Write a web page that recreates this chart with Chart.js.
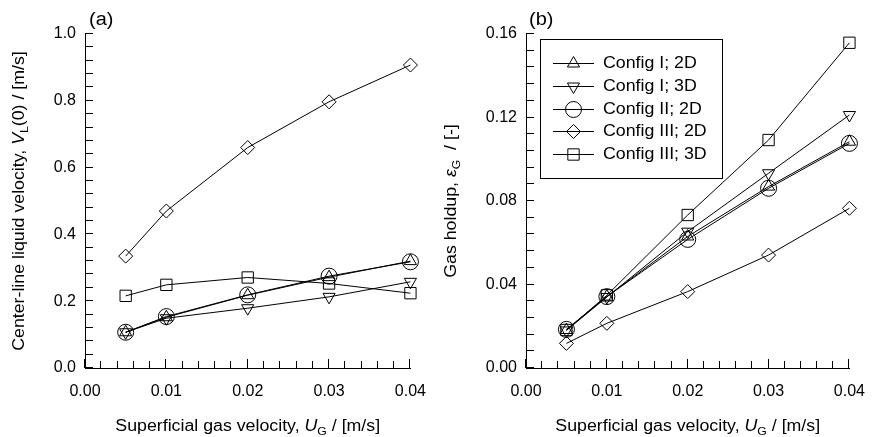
<!DOCTYPE html>
<html>
<head>
<meta charset="utf-8">
<script src="https://cdn.jsdelivr.net/npm/chart.js@4/dist/chart.umd.min.js"></script>
<style>
  body { margin: 0; background: #fff; }
  #wrap { position: relative; width: 879px; height: 437px; }
  .panel { position: absolute; top: 0; height: 437px; }
</style>
</head>
<body>
<div id="wrap">
  <div class="panel" style="left:0;width:440px"><canvas id="chartA"></canvas></div>
  <div class="panel" style="left:440px;width:439px"><canvas id="chartB"></canvas></div>
</div>
<script>
// superficial gas velocity U_G [m/s]
const ug = [0.005, 0.01, 0.02, 0.03, 0.04];
const seriesNames = ['Config I; 2D', 'Config I; 3D', 'Config II; 2D', 'Config III; 2D', 'Config III; 3D'];

// (a) center-line liquid velocity V_L(0) [m/s]
const velI2D   = [0.107, 0.152, 0.218, 0.272, 0.320];
const velI3D   = [0.107, 0.149, 0.179, 0.213, 0.258];
const velII2D  = [0.107, 0.154, 0.219, 0.275, 0.318];
const velIII2D = [0.335, 0.470, 0.660, 0.797, 0.907];
const velIII3D = [0.216, 0.249, 0.271, 0.253, 0.224];

// (b) gas holdup eps_G [-]
const holdI2D   = [0.0182, 0.0342, 0.0630, 0.0869, 0.1084];
const holdI3D   = [0.0180, 0.0340, 0.0653, 0.0933, 0.1212];
const holdII2D  = [0.0185, 0.0342, 0.0616, 0.0861, 0.1076];
const holdIII2D = [0.0118, 0.0214, 0.0366, 0.0541, 0.0765];
const holdIII3D = [0.0182, 0.0348, 0.0733, 0.1092, 0.1558];

const xTicks = [0, 0.01, 0.02, 0.03, 0.04];
const yTicksA = [0, 0.2, 0.4, 0.6, 0.8, 1.0];
const yTicksB = [0, 0.04, 0.08, 0.12, 0.16];

const FONT = '"Liberation Sans", Arial, Helvetica, sans-serif';
const WIDEN = 1.11;   // labels and legend text are set slightly wide

// marker look for each configuration
const markers = [
  { pointStyle: 'triangle', rotation: 0,   radius: 7 },
  { pointStyle: 'triangle', rotation: 180, radius: 7 },
  { pointStyle: 'circle',   rotation: 0,   radius: 8 },
  { pointStyle: 'rectRot',  rotation: 0,   radius: 7 },
  { pointStyle: 'rect',     rotation: 0,   radius: 8 }
];

function makeDatasets(series) {
  return series.map((vals, i) => ({
    label: seriesNames[i],
    data: ug.map((u, k) => ({ x: u, y: vals[k] })),
    borderColor: '#000',
    borderWidth: 1,
    backgroundColor: 'rgba(0,0,0,0)',
    pointStyle: markers[i].pointStyle,
    rotation: markers[i].rotation,
    pointRadius: markers[i].radius,
    pointHoverRadius: markers[i].radius,
    pointBorderColor: '#000',
    pointBackgroundColor: 'rgba(0,0,0,0)',
    pointBorderWidth: 1,
    tension: 0,
    clip: false
  }));
}

function wideText(ctx, text, x, y) {
  ctx.save();
  ctx.translate(x, y);
  ctx.scale(WIDEN, 1);
  ctx.fillText(text, 0, 0);
  ctx.restore();
}

// text made of pieces: normal, italic, subscript
function drawRich(ctx, segs, cx, cy) {
  const fonts = segs.map(s => (s.italic ? 'italic ' : '') + (s.sub ? '11px ' : '16px ') + FONT);
  const widths = segs.map((s, i) => { ctx.font = fonts[i]; return ctx.measureText(s.text).width * WIDEN; });
  let x = cx - widths.reduce((a, b) => a + b, 0) / 2;
  ctx.textAlign = 'left';
  ctx.textBaseline = 'alphabetic';
  segs.forEach((s, i) => {
    ctx.font = fonts[i];
    wideText(ctx, s.text, x, cy + 5.7 + (s.sub ? 4 : 0));
    x += widths[i];
  });
}

const axisTitles = {
  id: 'axisTitles',
  afterDraw(chart, args, opts) {
    const { ctx, chartArea: a } = chart;
    ctx.save();
    ctx.fillStyle = '#000';
    drawRich(ctx, opts.x, (a.left + a.right) / 2, opts.xTitleY);
    ctx.translate(opts.yTitleX, (a.top + a.bottom) / 2);
    ctx.rotate(-Math.PI / 2);
    drawRich(ctx, opts.y, 0, 0);
    ctx.restore();
    ctx.save();
    ctx.fillStyle = '#000';
    ctx.font = '18px ' + FONT;
    ctx.textAlign = 'left';
    ctx.textBaseline = 'middle';
    wideText(ctx, opts.panel, opts.panelX, 20);
    ctx.restore();
  }
};

// boxed legend with line + marker samples
const boxLegend = {
  id: 'boxLegend',
  afterDraw(chart, args, opts) {
    if (!opts.show) return;
    const ctx = chart.ctx;
    ctx.save();
    ctx.strokeStyle = '#000';
    ctx.lineWidth = 1;
    ctx.fillStyle = '#fff';
    ctx.fillRect(opts.left, opts.top, opts.width, opts.height);
    ctx.strokeRect(opts.left + 0.5, opts.top + 0.5, opts.width, opts.height);
    chart.data.datasets.forEach((ds, i) => {
      const yy = Math.round(opts.firstY + i * opts.rowH);
      ctx.beginPath();
      ctx.moveTo(opts.lineX0, yy + 0.5);
      ctx.lineTo(opts.lineX1, yy + 0.5);
      ctx.stroke();
      ctx.fillStyle = 'rgba(0,0,0,0)';
      Chart.helpers.drawPoint(ctx, {
        pointStyle: ds.pointStyle, rotation: ds.rotation, radius: ds.pointRadius, borderWidth: 1
      }, (opts.lineX0 + opts.lineX1) / 2, yy + 0.5);
      ctx.fillStyle = '#000';
      ctx.font = '16px ' + FONT;
      ctx.textAlign = 'left';
      ctx.textBaseline = 'middle';
      wideText(ctx, ds.label, opts.textX, yy + 1);
    });
    ctx.restore();
  }
};

// tick marks pointing into the plot area, drawn last
function makeInnerTicks(xStep, yStep, majorEvery) {
  return {
    id: 'innerTicks',
    afterDraw(chart) {
      const ctx = chart.ctx;
      const a = chart.chartArea;
      const sx = chart.scales.x, sy = chart.scales.y;
      const bottom = Math.round(a.bottom), left = Math.round(a.left);
      ctx.save();
      ctx.fillStyle = '#000';
      const nx = Math.round((sx.max - sx.min) / xStep);
      for (let i = 0; i <= nx; i++) {
        const px = Math.round(sx.getPixelForValue(sx.min + i * xStep));
        const len = i % majorEvery === 0 ? 9 : 7;
        ctx.fillRect(px - 1, bottom - len, 1, len);
      }
      const ny = Math.round((sy.max - sy.min) / yStep);
      for (let i = 0; i <= ny; i++) {
        const py = Math.round(sy.getPixelForValue(sy.min + i * yStep));
        ctx.fillRect(left, py - 1, 8, 1);
      }
      ctx.restore();
    }
  };
}

function makeChart(id, series, yTicks, yMax, digits, cfg) {
  return new Chart(document.getElementById(id), {
    type: 'line',
    data: { datasets: makeDatasets(series) },
    plugins: [axisTitles, boxLegend, makeInnerTicks(0.002, cfg.yMinor, 5)],
    options: {
      responsive: true,
      maintainAspectRatio: false,
      animation: false,
      layout: { padding: { left: 0, right: cfg.padRight, top: 34, bottom: 0 } },
      scales: {
        x: {
          type: 'linear',
          min: 0, max: 0.04,
          afterBuildTicks: s => { s.ticks = xTicks.map(v => ({ value: v })); },
          afterFit: s => { s.height = 69; },
          ticks: { callback: v => v.toFixed(2), color: '#000', font: { family: FONT, size: 16 }, padding: 14, maxRotation: 0, autoSkip: false },
          grid: { display: false, drawTicks: false },
          border: { display: true, color: '#000', width: 1 }
        },
        y: {
          type: 'linear',
          min: 0, max: yMax,
          afterBuildTicks: s => { s.ticks = yTicks.map(v => ({ value: v })); },
          afterFit: s => { s.width = cfg.yWidth; },
          ticks: { callback: v => v.toFixed(digits), color: '#000', font: { family: FONT, size: 16 }, padding: 9, autoSkip: false },
          grid: { display: false, drawTicks: false },
          border: { display: true, color: '#000', width: 1 }
        }
      },
      plugins: {
        legend: { display: false },
        tooltip: { enabled: false },
        axisTitles: cfg.titles,
        boxLegend: cfg.legend
      }
    }
  });
}

const xTitle = [
  { text: 'Superficial gas velocity, ' },
  { text: 'U', italic: true },
  { text: 'G', sub: true },
  { text: ' / [m/s]' }
];

makeChart('chartA', [velI2D, velI3D, velII2D, velIII2D, velIII3D], yTicksA, 1.0, 1, {
  padRight: 21, yWidth: 85, yMinor: 0.04,
  titles: {
    x: xTitle, xTitleY: 425, yTitleX: 18, panel: '(a)', panelX: 89,
    y: [
      { text: 'Center-line liquid velocity, ' },
      { text: 'V', italic: true },
      { text: 'L', sub: true },
      { text: '(0) / [m/s]' }
    ]
  },
  legend: { show: false }
});

makeChart('chartB', [holdI2D, holdI3D, holdII2D, holdIII2D, holdIII3D], yTicksB, 0.16, 2, {
  padRight: 18, yWidth: 86, yMinor: 0.008,
  titles: {
    x: xTitle, xTitleY: 425, yTitleX: 10, panel: '(b)', panelX: 89,
    y: [
      { text: 'Gas holdup, ' },
      { text: 'ε', italic: true },
      { text: 'G', sub: true },
      { text: '  / [-]' }
    ]
  },
  legend: {
    show: true, left: 100, top: 39, width: 182, height: 139,
    firstY: 63, rowH: 22.75, lineX0: 113, lineX1: 154, textX: 163
  }
});
</script>
</body>
</html>
